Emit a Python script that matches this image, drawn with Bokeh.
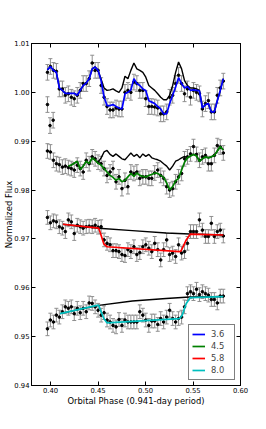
from bokeh.plotting import figure
from bokeh.models import (ColumnDataSource, Whisker, TeeHead, FixedTicker, LinearAxis,
                          Range1d, Legend, LegendItem, PrintfTickFormatter)
from bokeh.embed import file_html
from bokeh.resources import INLINE

# ---------------- data ----------------
phase = [0.3968, 0.3999, 0.4031, 0.4062, 0.4093, 0.4125, 0.4156, 0.4188, 0.4219, 0.4250,
         0.4282, 0.4313, 0.4344, 0.4376, 0.4407, 0.4439, 0.4470, 0.4501, 0.4533, 0.4564,
         0.4595, 0.4627, 0.4658, 0.4690, 0.4721, 0.4752, 0.4784, 0.4815, 0.4846, 0.4878,
         0.4909, 0.4940, 0.4972, 0.5003, 0.5035, 0.5066, 0.5097, 0.5129, 0.5160, 0.5191,
         0.5223, 0.5254, 0.5286, 0.5317, 0.5348, 0.5380, 0.5411, 0.5442, 0.5474, 0.5505,
         0.5537, 0.5568, 0.5599, 0.5631, 0.5662, 0.5693, 0.5725, 0.5756, 0.5787, 0.5819]

flux_36 = [1.0041, 1.0053, 1.0045, 1.0043, 1.0007, 1.0007, 0.9994, 0.9997, 0.9990, 0.9987,
           0.9994, 1.0004, 1.0018, 1.0018, 1.0028, 1.0060, 1.0045, 1.0045, 1.0014, 0.9990,
           0.9971, 0.9964, 0.9964, 0.9968, 0.9966, 0.9966, 1.0000, 1.0004, 1.0000, 1.0021,
           1.0018, 1.0004, 1.0004, 0.9987, 0.9971, 0.9971, 0.9970, 0.9968, 0.9956, 0.9956,
           0.9960, 0.9990, 0.9994, 1.0018, 1.0035, 1.0018, 0.9997, 1.0007, 0.9990, 1.0004,
           1.0000, 0.9997, 0.9966, 0.9977, 0.9983, 0.9960, 0.9960, 0.9994, 1.0009, 1.0023]
outlier_phase_36 = [0.3968, 0.3995, 0.4028]
outlier_flux_36 = [0.9975, 0.9932, 0.9943]

flux_45 = [0.9880, 0.9878, 0.9861, 0.9854, 0.9852, 0.9847, 0.9849, 0.9846, 0.9844, 0.9841,
           0.9851, 0.9844, 0.9837, 0.9861, 0.9854, 0.9868, 0.9864, 0.9857, 0.9854, 0.9844,
           0.9830, 0.9837, 0.9844, 0.9817, 0.9827, 0.9803, 0.9820, 0.9807, 0.9837, 0.9834,
           0.9837, 0.9824, 0.9827, 0.9827, 0.9824, 0.9824, 0.9835, 0.9841, 0.9830, 0.9824,
           0.9807, 0.9800, 0.9803, 0.9817, 0.9827, 0.9834, 0.9864, 0.9868, 0.9874, 0.9889,
           0.9873, 0.9861, 0.9868, 0.9871, 0.9854, 0.9854, 0.9871, 0.9891, 0.9888, 0.9876]

flux_58 = [0.9744, 0.9733, 0.9737, 0.9735, 0.9725, 0.9722, 0.9715, 0.9739, 0.9735, 0.9711,
           0.9728, 0.9725, 0.9722, 0.9725, 0.9726, 0.9725, 0.9728, 0.9724, 0.9725, 0.9698,
           0.9691, 0.9688, 0.9676, 0.9676, 0.9674, 0.9668, 0.9666, 0.9678, 0.9674, 0.9684,
           0.9668, 0.9672, 0.9684, 0.9688, 0.9681, 0.9674, 0.9691, 0.9678, 0.9657, 0.9678,
           0.9698, 0.9668, 0.9671, 0.9664, 0.9688, 0.9671, 0.9674, 0.9691, 0.9715, 0.9715,
           0.9715, 0.9739, 0.9718, 0.9705, 0.9705, 0.9732, 0.9705, 0.9715, 0.9718, 0.9706]

flux_80 = [0.9516, 0.9534, 0.9530, 0.9544, 0.9540, 0.9551, 0.9561, 0.9558, 0.9561, 0.9547,
           0.9558, 0.9549, 0.9558, 0.9551, 0.9569, 0.9568, 0.9561, 0.9554, 0.9544, 0.9549,
           0.9534, 0.9530, 0.9523, 0.9520, 0.9535, 0.9523, 0.9534, 0.9530, 0.9530, 0.9530,
           0.9530, 0.9551, 0.9544, 0.9534, 0.9523, 0.9532, 0.9532, 0.9525, 0.9537, 0.9530,
           0.9540, 0.9554, 0.9537, 0.9530, 0.9537, 0.9540, 0.9561, 0.9588, 0.9592, 0.9588,
           0.9597, 0.9586, 0.9592, 0.9588, 0.9585, 0.9576, 0.9576, 0.9569, 0.9583, 0.9583]

err_36, err_45, err_58, err_80 = 0.0016, 0.0015, 0.0014, 0.0014

# models
model_36 = [1.0046, 1.0053, 1.0045, 1.0041, 1.0009, 1.0004, 0.9998, 0.9998, 0.9998, 0.9998,
            0.9994, 1.0004, 1.0014, 1.0019, 1.0028, 1.0048, 1.0052, 1.0045, 1.0024, 0.9990,
            0.9973, 0.9973, 0.9975, 0.9971, 0.9968, 0.9966, 0.9997, 1.0000, 1.0005, 1.0028,
            1.0018, 1.0014, 1.0007, 1.0004, 0.9983, 0.9980, 0.9977, 0.9971, 0.9966, 0.9956,
            0.9956, 0.9977, 0.9994, 1.0011, 1.0030, 1.0018, 1.0009, 1.0012, 1.0004, 1.0005,
            1.0004, 1.0003, 0.9968, 0.9975, 0.9977, 0.9960, 0.9960, 0.9983, 1.0004, 1.0028]
noecl_36 = [1.0046, 1.0053, 1.0045, 1.0041, 1.0009, 1.0004, 0.9998, 0.9998, 0.9998, 0.9998,
            0.9994, 1.0004, 1.0014, 1.0019, 1.0028, 1.0048, 1.0052, 1.0045, 1.0027, 1.0009,
            1.0004, 1.0005, 1.0007, 1.0003, 1.0000, 1.0009, 1.0033, 1.0028, 1.0045, 1.0060,
            1.0048, 1.0045, 1.0041, 1.0031, 1.0014, 1.0009, 1.0004, 0.9997, 0.9990, 0.9985,
            0.9985, 0.9994, 1.0014, 1.0041, 1.0062, 1.0048, 1.0024, 1.0014, 1.0009, 1.0009,
            1.0007, 1.0004, 0.9968, 0.9975, 0.9977, 0.9960, 0.9960, 0.9983, 1.0004, 1.0028]

model_phase_45 = phase[7:]
model_45 = [0.9849, 0.9851, 0.9855, 0.9859, 0.9842, 0.9849, 0.9859, 0.9854, 0.9866, 0.9861,
            0.9855, 0.9851, 0.9844, 0.9837, 0.9830, 0.9826, 0.9820, 0.9824, 0.9817, 0.9820,
            0.9827, 0.9834, 0.9828, 0.9835, 0.9830, 0.9828, 0.9827, 0.9830, 0.9832, 0.9835,
            0.9834, 0.9830, 0.9826, 0.9814, 0.9801, 0.9807, 0.9819, 0.9824, 0.9841, 0.9857,
            0.9866, 0.9870, 0.9873, 0.9870, 0.9859, 0.9864, 0.9868, 0.9866, 0.9868, 0.9871,
            0.9880, 0.9889, 0.9882]
noecl_45 = [0.9849, 0.9851, 0.9855, 0.9859, 0.9842, 0.9849, 0.9859, 0.9854, 0.9866, 0.9861,
            0.9857, 0.9866, 0.9878, 0.9881, 0.9873, 0.9869, 0.9874, 0.9869, 0.9864, 0.9862,
            0.9869, 0.9876, 0.9869, 0.9873, 0.9866, 0.9874, 0.9869, 0.9873, 0.9866, 0.9864,
            0.9862, 0.9859, 0.9854, 0.9849, 0.9841, 0.9849, 0.9859, 0.9862, 0.9866, 0.9869,
            0.9866, 0.9870, 0.9873, 0.9870, 0.9859, 0.9864, 0.9868, 0.9866, 0.9868, 0.9871,
            0.9880, 0.9889, 0.9882]

model_phase_58 = [0.4131, 0.4507, 0.4525, 0.4561, 0.4596, 0.5359, 0.5376, 0.5429, 0.5472, 0.5819]
model_58 = [0.9730, 0.9722, 0.9712, 0.9690, 0.9684, 0.9674, 0.9676, 0.9698, 0.9710, 0.9708]
noecl_phase_58 = [0.4131, 0.4507, 0.4862, 0.5217, 0.5465, 0.5819]
noecl_58 = [0.9730, 0.9722, 0.9717, 0.9712, 0.9710, 0.9708]

model_phase_80 = [0.4100, 0.4490, 0.4507, 0.4561, 0.4596, 0.5359, 0.5386, 0.5429, 0.5472, 0.5819]
model_80 = [0.9547, 0.9564, 0.9564, 0.9537, 0.9528, 0.9537, 0.9544, 0.9568, 0.9580, 0.9582]
noecl_phase_80 = [0.4100, 0.4507, 0.4862, 0.5217, 0.5465, 0.5819]
noecl_80 = [0.9547, 0.9564, 0.9573, 0.9578, 0.9581, 0.9582]

labels = ["3.6", "4.5", "5.8", "8.0"]
colors = ["#0000ff", "#008000", "#ff0000", "#00bfbf"]
x_ticks = [0.40, 0.45, 0.50, 0.55, 0.60]
y_ticks = [0.94, 0.95, 0.96, 0.97, 0.98, 0.99, 1.00, 1.01]

# ---------------- figure ----------------
FONT = "DejaVu Sans"
p = figure(width=250, height=413, x_range=Range1d(0.38, 0.60), y_range=Range1d(0.94, 1.01),
           output_backend="svg", toolbar_location=None,
           min_border_left=31, min_border_right=10, min_border_top=43, min_border_bottom=28)
p.grid.visible = False
p.outline_line_color = "black"
p.outline_line_width = 1
p.background_fill_color = "white"

GRAY = "#8f8f8f"

def errbars(xs, ys, err):
    src = ColumnDataSource(dict(x=xs, lo=[v - err for v in ys], hi=[v + err for v in ys]))
    w = Whisker(source=src, base="x", upper="hi", lower="lo", line_color=GRAY, line_width=1,
                upper_head=TeeHead(size=4, line_color=GRAY, line_width=1),
                lower_head=TeeHead(size=4, line_color=GRAY, line_width=1))
    p.add_layout(w)

series = [(phase, flux_36, err_36), (phase, flux_45, err_45),
          (phase, flux_58, err_58), (phase, flux_80, err_80),
          (outlier_phase_36, outlier_flux_36, err_36)]
for xs, ys, e in series:
    errbars(xs, ys, e)
for xs, ys, e in series:
    p.scatter(xs, ys, size=2.6, color="black")

# no-eclipse models (black)
p.line(phase, noecl_36, color="black", line_width=1.4)
p.line(model_phase_45, noecl_45, color="black", line_width=1.4)
p.line(noecl_phase_58, noecl_58, color="black", line_width=1.4)
p.line(noecl_phase_80, noecl_80, color="black", line_width=1.4)

# eclipse models (coloured)
r1 = p.line(phase, model_36, color=colors[0], line_width=1.7)
r2 = p.line(model_phase_45, model_45, color=colors[1], line_width=1.7)
r3 = p.line(model_phase_58, model_58, color=colors[2], line_width=1.7)
r4 = p.line(model_phase_80, model_80, color=colors[3], line_width=1.7)

legend = Legend(items=[LegendItem(label=l, renderers=[r]) for l, r in zip(labels, [r1, r2, r3, r4])],
                location="bottom_right", border_line_color="black", border_line_width=1,
                background_fill_color="white", background_fill_alpha=1.0,
                label_text_font=FONT, label_text_font_size="8.4px",
                glyph_width=13, glyph_height=12, label_height=12, spacing=0,
                padding=3, margin=5, label_standoff=6)
p.add_layout(legend)

# axes
for ax in (p.xaxis[0], p.yaxis[0]):
    ax.major_tick_in = 4
    ax.major_tick_out = 0
    ax.minor_tick_line_color = None
    ax.axis_line_color = "black"
    ax.major_tick_line_color = "black"
    ax.major_label_text_font = FONT
    ax.major_label_text_font_size = "6.8px"
    ax.major_label_text_color = "black"
    ax.axis_label_text_font = FONT
    ax.axis_label_text_font_size = "8.4px"
    ax.axis_label_text_font_style = "normal"
    ax.axis_label_text_color = "black"

p.xaxis.major_label_standoff = 2
p.xaxis.axis_label_standoff = 0
p.yaxis.major_label_standoff = 2
p.yaxis.axis_label_standoff = -3

p.xaxis.ticker = FixedTicker(ticks=x_ticks)
p.yaxis.ticker = FixedTicker(ticks=y_ticks)
p.xaxis.formatter = PrintfTickFormatter(format="%.2f")
p.yaxis.formatter = PrintfTickFormatter(format="%.2f")
p.xaxis.axis_label = "Orbital Phase (0.941-day period)"
p.yaxis.axis_label = "Normalized Flux"

top = LinearAxis(ticker=FixedTicker(ticks=x_ticks),
                 major_label_overrides={t: "" for t in x_ticks},
                 major_label_text_font_size="1px",
                 major_tick_in=4, major_tick_out=0, minor_tick_line_color=None,
                 major_label_standoff=0, axis_line_color="black")
right = LinearAxis(ticker=FixedTicker(ticks=y_ticks),
                   major_label_overrides={t: "" for t in y_ticks},
                   major_label_text_font_size="1px",
                   major_tick_in=4, major_tick_out=0, minor_tick_line_color=None,
                   major_label_standoff=0, axis_line_color="black")
p.add_layout(top, "above")
p.add_layout(right, "right")

open("out.html", "w").write(file_html(p, INLINE))
